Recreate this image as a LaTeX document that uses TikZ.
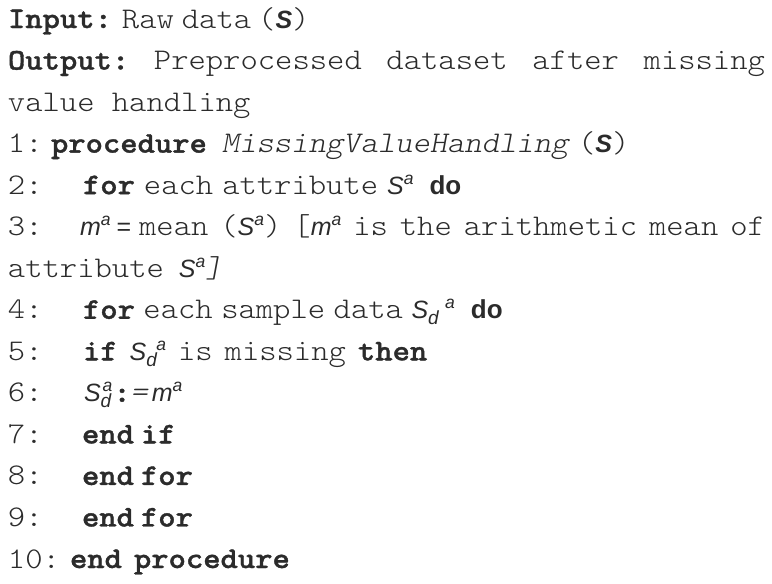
\documentclass[tikz,border=0pt]{standalone}
\usepackage{fontspec}
\setmonofont{lmmonolt10-regular.otf}[FakeStretch=1.1, BoldFont=lmmonolt10-bold.otf, BoldFeatures={FakeBold=1.2}, ItalicFont=lmmonolt10-oblique.otf, BoldItalicFont=lmmonolt10-boldoblique.otf]
\newfontfamily\arialf{Liberation Sans}
\definecolor{ink}{HTML}{2B2B2B}
\newcommand{\ai}[1]{{\arialf\fontsize{25}{25}\selectfont\itshape #1}}
\newcommand{\abi}[1]{{\arialf\fontsize{25}{25}\selectfont\bfseries\itshape #1}}
\newcommand{\ab}[1]{{\arialf\fontsize{26}{26}\selectfont\bfseries #1}}
\newcommand{\supa}{\raisebox{10pt}{\arialf\fontsize{17.5}{17.5}\selectfont\itshape a}}
\newcommand{\subd}{\raisebox{-6pt}{\arialf\fontsize{19}{19}\selectfont\itshape d}}
% S with subscript d and superscript a; #1 = shift of the a after the start of d
\newcommand{\sda}[1]{\ai{S}\rlap{\subd}\hspace*{#1}\supa}
\newcommand{\hs}[1]{\hspace*{#1pt}}
\begin{document}
\begin{tikzpicture}[x=1pt,y=-1pt,
  txt/.style={anchor=base west, inner sep=0pt, outer sep=0pt, text=ink,
    font=\ttfamily\fontsize{30}{41.5}\selectfont}]
\useasboundingbox (0,0) rectangle (772,584);
\fill[white] (0,0) rectangle (772,584);
\node[txt] (l1) at (8,28) {{\bfseries Input:}\hs{10}Raw\hs{8}data\hs{7}(\abi{S})};
\node[txt] (l2) at (8,69.54) {\hbox to 757pt{\bfseries Output:\mdseries\hfill Preprocessed\hfill dataset\hfill after\hfill missing}};
\node[txt] (l3) at (8,111.08) {value handling};
\node[txt] (n1) at (8,152.62) {1:};
\node[txt] (c1) at (51,152.62) {{\bfseries procedure}\hs{15}\textit{MissingValueHandling}\hs{8}(\abi{S})};
\node[txt] (n2) at (8,194.16) {2:};
\node[txt] (c2) at (83,194.16) {{\bfseries for}\hs{9}each\hs{9}attribute\hs{9}\ai{S}\supa\hs{16}\ab{do}};
\node[txt] (n3) at (8,235.7) {3:};
\node[txt] (c3) at (80,235.7) {\hbox to 685pt{\ai{m}\supa\hs{6}{\arialf\fontsize{25}{25}\selectfont =}\hs{8}mean\hfill(\ai{S}\supa)\hfill[\ai{m}\supa\hfill is\hfill the\hfill arithmetic\hfill mean\hfill of}};
\node[txt] (c3b) at (8,277.24) {attribute\hs{15}\ai{S}\supa\textit{]}};
\node[txt] (n4) at (8,318.78) {4:};
\node[txt] (c4) at (83,318.78) {{\bfseries for}\hs{8.5}each\hs{8.5}sample\hs{8.5}data\hs{8.5}\sda{17pt}\hs{16}\ab{do}};
\node[txt] (n5) at (8,360.32) {5:};
\node[txt] (c5) at (83,360.32) {{\bfseries if}\hs{12}\sda{10pt}\hs{12}is\hs{12}missing\hs{12}{\bfseries then}};
\node[txt] (n6) at (8,401.86) {6:};
\node[txt] (c6) at (84,401.86) {\sda{2pt}\hs{1}{\bfseries :}\textit{=}\hs{3}\ai{m}\supa};
\node[txt] (n7) at (8,443.4) {7:};
\node[txt] (c7) at (82,443.4) {{\bfseries end\hs{7}if}};
\node[txt] (n8) at (8,484.94) {8:};
\node[txt] (c8) at (82,484.94) {{\bfseries end\hs{7}for}};
\node[txt] (n9) at (8,526.48) {9:};
\node[txt] (c9) at (82,526.48) {{\bfseries end\hs{7}for}};
\node[txt] (n10) at (8,568) {10:};
\node[txt] (c10) at (70,568) {{\bfseries end\hs{12}procedure}};
\end{tikzpicture}
\end{document}
